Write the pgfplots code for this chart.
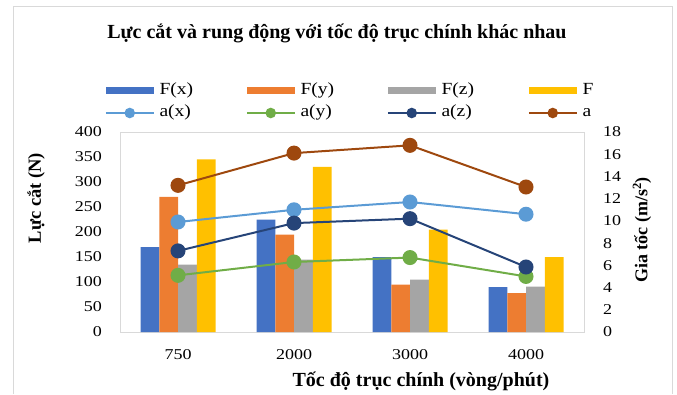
\documentclass[border=0pt]{standalone}
\usepackage{fontspec}
\setmainfont{Liberation Serif}
\newfontfamily\tickfont[FakeStretch=1.2]{Liberation Serif}
\newfontfamily\legfont[FakeStretch=1.15]{Liberation Serif}
\usepackage{pgfplots}
\pgfplotsset{compat=1.18}
\definecolor{cFx}{HTML}{4472C4}
\definecolor{cFy}{HTML}{ED7D31}
\definecolor{cFz}{HTML}{A5A5A5}
\definecolor{cF}{HTML}{FFC000}
\definecolor{cax}{HTML}{5B9BD5}
\definecolor{cay}{HTML}{70AD47}
\definecolor{caz}{HTML}{264478}
\definecolor{ca}{HTML}{9E480E}
\definecolor{framegray}{HTML}{D9D9D9}
\pgfplotsset{
  barimg/.style={legend image code/.code={\fill[##1] (0pt,-3.5pt) rectangle (48pt,3.5pt);}},
  lineimg/.style={legend image code/.code={\draw[##1, sharp plot, mark repeat=2, mark phase=2] plot coordinates {(0pt,0pt) (24pt,0pt) (48pt,0pt)};}},
}
\begin{document}
\begin{tikzpicture}
\useasboundingbox (0,0) rectangle (677pt,394pt);
\draw[color=framegray, line width=1pt] (13pt,0pt) -- (13pt,387pt) -- (672pt,387pt) -- (672pt,0pt);
\begin{axis}[
  at={(120pt,62pt)}, anchor=south west,
  scale only axis, width=464pt, height=200pt,
  ymin=0, ymax=400, ytick={0,50,...,400},
  xmin=-0.5, xmax=3.5, xtick={0,1,2,3}, xticklabels={750,2000,3000,4000},
  ybar, bar width=18.75pt,
  axis line style={draw=framegray},
  tick style={draw=none},
  major tick length=0pt,
  /pgf/number format/assume math mode=true,
  ticklabel style={font=\tickfont\fontsize{15}{17}\selectfont},
  yticklabel style={inner sep=0pt, xshift=-18pt},
  xticklabel style={inner sep=0pt, yshift=-17pt},
  legend columns=4,
  legend cell align=left,
  legend style={draw=none, fill=none, inner sep=0pt, outer sep=0pt,
    at={(-0.0323,1.245)}, anchor=north west,
    font=\legfont\fontsize{17}{20}\selectfont,
    nodes={inner xsep=2pt, inner ysep=0pt, text height=12pt, text depth=4pt},
    column sep=0pt, row sep=6pt,
    /tikz/every odd column/.append style={column sep=3pt}},
]
\addplot[fill=cFx, draw=none, bar shift=-28.125pt, barimg] coordinates {(0,170) (1,225) (2,150) (3,90)};
\addlegendentry{\makebox[84.5pt][l]{F(x)}}
\addplot[fill=cFy, draw=none, bar shift=-9.375pt, barimg] coordinates {(0,270) (1,195) (2,95) (3,78)};
\addlegendentry{\makebox[84.5pt][l]{F(y)}}
\addplot[fill=cFz, draw=none, bar shift=9.375pt, barimg] coordinates {(0,135) (1,145) (2,105) (3,91)};
\addlegendentry{\makebox[84.5pt][l]{F(z)}}
\addplot[fill=cF, draw=none, bar shift=28.125pt, barimg] coordinates {(0,345) (1,330) (2,205) (3,150)};
\addlegendentry{\makebox[84.5pt][l]{F}}
\addlegendimage{lineimg, color=cax, line width=1.5pt, mark=*, mark size=4.5pt}
\addlegendentry{\makebox[84.5pt][l]{a(x)}}
\addlegendimage{lineimg, color=cay, line width=1.5pt, mark=*, mark size=4.5pt}
\addlegendentry{\makebox[84.5pt][l]{a(y)}}
\addlegendimage{lineimg, color=caz, line width=1.5pt, mark=*, mark size=4.5pt}
\addlegendentry{\makebox[84.5pt][l]{a(z)}}
\addlegendimage{lineimg, color=ca, line width=1.5pt, mark=*, mark size=4.5pt}
\addlegendentry{\makebox[84.5pt][l]{a}}
\end{axis}
\begin{axis}[
  at={(120pt,62pt)}, anchor=south west,
  scale only axis, width=464pt, height=200pt,
  ymin=0, ymax=18, ytick={0,2,...,18},
  xmin=-0.5, xmax=3.5,
  axis x line=none, axis y line*=right,
  y axis line style={draw=none},
  tick style={draw=none},
  major tick length=0pt,
  /pgf/number format/assume math mode=true,
  ticklabel style={font=\tickfont\fontsize{15}{17}\selectfont},
  yticklabel style={inner sep=0pt, xshift=19pt},
]
\addplot[color=cax, line width=2pt, mark=*, mark size=6.5pt] coordinates {(0,9.9) (1,11.0) (2,11.7) (3,10.6)};
\addplot[color=cay, line width=2pt, mark=*, mark size=6.5pt] coordinates {(0,5.1) (1,6.3) (2,6.7) (3,5.0)};
\addplot[color=caz, line width=2pt, mark=*, mark size=6.5pt] coordinates {(0,7.3) (1,9.8) (2,10.2) (3,5.85)};
\addplot[color=ca, line width=2pt, mark=*, mark size=6.5pt] coordinates {(0,13.2) (1,16.1) (2,16.8) (3,13.05)};
\end{axis}
\node[font=\bfseries\fontsize{20}{23}\selectfont] at (337pt,361pt) {Lực cắt và rung động với tốc độ trục chính khác nhau};
\node[font=\bfseries\fontsize{20}{23}\selectfont] at (421pt,13pt) {Tốc độ trục chính (vòng/phút)};
\node[font=\bfseries\fontsize{18.5}{21}\selectfont, rotate=90] at (36pt,196pt) {Lực cắt (N)};
\node[font=\bfseries\fontsize{18}{21}\selectfont, rotate=90] at (642pt,164pt) {Gia tốc (m/s\textsuperscript{2})};
\end{tikzpicture}
\end{document}
